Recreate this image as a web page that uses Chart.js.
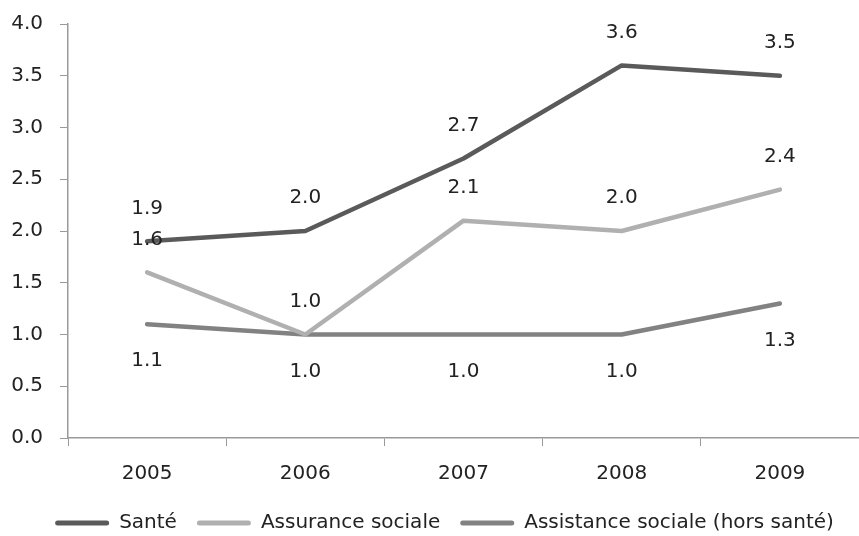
<!DOCTYPE html>
<html>
<head>
<meta charset="utf-8">
<script src="https://cdn.jsdelivr.net/npm/chart.js@4.4.1/dist/chart.umd.min.js"></script>
<style>
  html, body { margin: 0; padding: 0; background: #ffffff; }
  #wrap { width: 859px; height: 536px; position: relative; }
</style>
</head>
<body>
<div id="wrap"><canvas id="chart"></canvas></div>
<script>
// Years on the horizontal axis
const years = ['2005', '2006', '2007', '2008', '2009'];

// Series values
const sante = [1.9, 2.0, 2.7, 3.6, 3.5];
const assuranceSociale = [1.6, 1.0, 2.1, 2.0, 2.4];
const assistanceSociale = [1.1, 1.0, 1.0, 1.0, 1.3];

// Vertical axis ticks
const yTicks = [0, 0.5, 1.0, 1.5, 2.0, 2.5, 3.0, 3.5, 4.0];

const FONT = 'DejaVu Sans';
const TEXT = '#222222';
const AXIS = '#9a9a9a';

// Writes each point's value above or below it
const valueLabels = {
  id: 'valueLabels',
  afterDatasetsDraw(chart) {
    const ctx = chart.ctx;
    ctx.save();
    ctx.font = '20px "' + FONT + '"';
    ctx.fillStyle = TEXT;
    ctx.textAlign = 'center';
    ctx.textBaseline = 'middle';
    chart.data.datasets.forEach((ds, i) => {
      const meta = chart.getDatasetMeta(i);
      meta.data.forEach((pt, j) => {
        const dy = ds.labelSide === 'below' ? 37 : -33;
        ctx.fillText(ds.data[j].toFixed(1), pt.x, pt.y + dy);
      });
    });
    ctx.restore();
  }
};

// Nudges the legend row right and down under the plot
const legendNudge = {
  id: 'legendNudge',
  afterLayout(chart) {
    const lg = chart.legend;
    if (!lg) return;
    lg.left += 15; lg.right += 15;
    lg.top += 7; lg.bottom += 7;
  }
};

const lineStyle = (color) => ({
  borderColor: color,
  backgroundColor: color,
  borderWidth: 4.5,
  borderCapStyle: 'round',
  borderJoinStyle: 'round',
  pointRadius: 0,
  pointHoverRadius: 0,
  tension: 0,
  fill: false
});

new Chart(document.getElementById('chart'), {
  type: 'line',
  data: {
    labels: years,
    datasets: [
      Object.assign({ label: 'Santé', data: sante, labelSide: 'above' }, lineStyle('#5a5a5a')),
      Object.assign({ label: 'Assurance sociale', data: assuranceSociale, labelSide: 'above' }, lineStyle('#b0b0b0')),
      Object.assign({ label: 'Assistance sociale (hors santé)', data: assistanceSociale, labelSide: 'below' }, lineStyle('#828282'))
    ]
  },
  options: {
    responsive: true,
    maintainAspectRatio: false,
    animation: false,
    layout: { padding: { left: 0, right: 0, top: 24, bottom: 0 } },
    plugins: {
      tooltip: { enabled: false },
      legend: {
        position: 'bottom',
        labels: {
          font: { family: FONT, size: 20 },
          color: TEXT,
          boxWidth: 54,
          boxHeight: 5,
          padding: 20,
          generateLabels(chart) {
            return chart.data.datasets.map((ds, i) => ({
              text: ds.label,
              fillStyle: ds.borderColor,
              strokeStyle: ds.borderColor,
              lineWidth: 0,
              borderRadius: 2.5,
              fontColor: TEXT,
              hidden: false,
              datasetIndex: i
            }));
          }
        }
      }
    },
    scales: {
      x: {
        offset: true,
        grid: {
          offset: true,
          drawOnChartArea: false,
          drawTicks: true,
          tickLength: 8,
          color: AXIS
        },
        border: { color: AXIS, width: 1.5 },
        ticks: {
          font: { family: FONT, size: 20 },
          color: TEXT,
          padding: 16,
          maxRotation: 0
        },
        afterFit(scale) { scale.height = 48; }
      },
      y: {
        min: 0,
        max: 4,
        grid: {
          drawOnChartArea: false,
          drawTicks: true,
          tickLength: 8,
          color: AXIS
        },
        border: { color: AXIS, width: 1.5 },
        afterBuildTicks(scale) { scale.ticks = yTicks.map(v => ({ value: v })); },
        ticks: {
          font: { family: FONT, size: 20 },
          color: TEXT,
          padding: 17,
          callback: (v) => Number(v).toFixed(1)
        },
        afterFit(scale) {
          scale.width = 68;
          scale.paddingTop = 0;
          scale.paddingBottom = 0;
        }
      }
    }
  },
  plugins: [valueLabels, legendNudge]
});
</script>
</body>
</html>
